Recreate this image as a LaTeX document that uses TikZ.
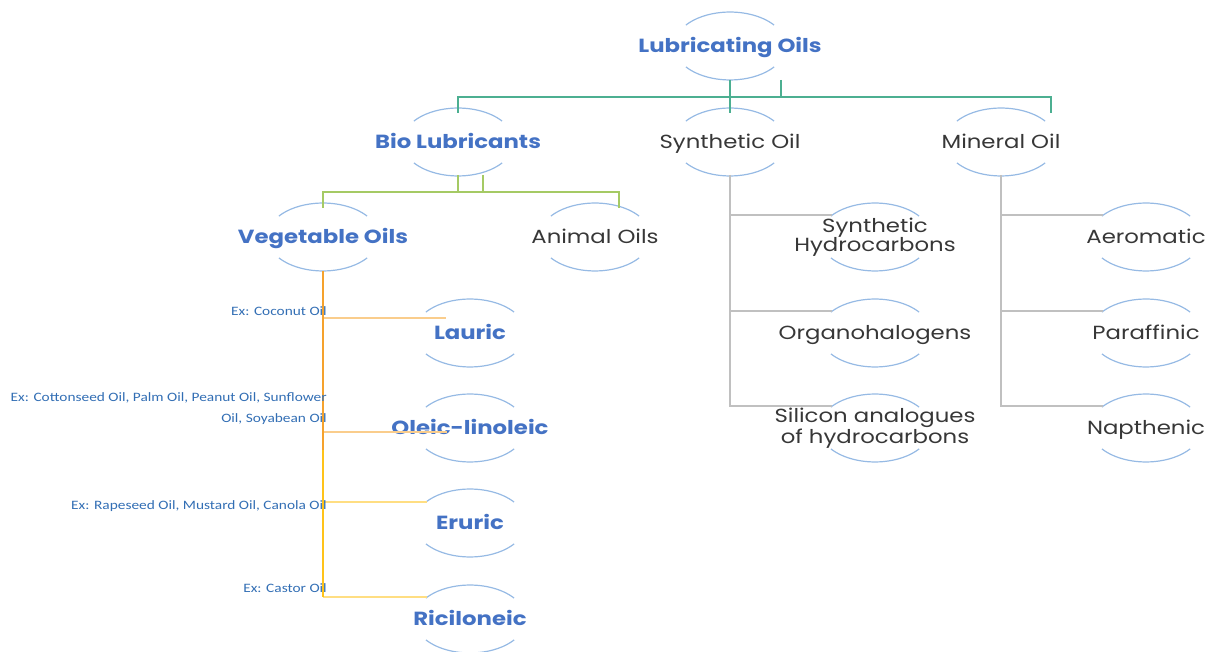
\documentclass[tikz,border=0pt]{standalone}
\usepackage{fontspec}
\setmainfont{Poppins}
\newfontfamily\exfont{Carlito}
\usetikzlibrary{calc}
\definecolor{lblue}{RGB}{68,114,196}
\definecolor{darkc}{RGB}{55,55,55}
\definecolor{arcc}{RGB}{150,186,228}
\definecolor{tealc}{RGB}{76,175,145}
\definecolor{greenc}{RGB}{165,202,100}
\definecolor{orc}{RGB}{245,162,45}
\definecolor{goldc}{RGB}{255,195,25}
\definecolor{orlc}{RGB}{250,205,140}
\definecolor{goldlc}{RGB}{255,222,130}
\definecolor{grayc}{RGB}{192,192,192}
\definecolor{exc}{RGB}{50,110,180}
\newcommand\ovarcs[1]{%
  \draw[arcline] ($(#1.center)+(44.1,20.9)$) arc[start angle=38,end angle=142,x radius=56,y radius=34];
  \draw[arcline] ($(#1.center)+(-44.1,-20.9)$) arc[start angle=218,end angle=322,x radius=56,y radius=34];}
\begin{document}
\begin{tikzpicture}[x=1pt,y=1pt,
  lbl/.style={inner sep=0pt, xscale=1.2, font=\fontsize{19}{19}\selectfont, text=darkc, align=center},
  blbl/.style={inner sep=0pt, xscale=1.2, font=\fontsize{19}{19}\selectfont\bfseries, text=lblue, align=center},
  one/.style={text height=13.3pt, text depth=0pt},
  exlbl/.style={inner sep=0pt, xscale=1.2, font=\exfont\fontsize{12.8}{21}\selectfont, text=exc, anchor=east, align=right},
  arcline/.style={draw=arcc, line width=1.2pt},
  tl/.style={draw=tealc, line width=1.6pt},
  gl/.style={draw=greenc, line width=1.6pt},
  orl/.style={draw=orc, line width=1.4pt},
  gdl/.style={draw=goldc, line width=1.4pt},
  orb/.style={draw=orlc, line width=1.4pt},
  gdb/.style={draw=goldlc, line width=1.4pt},
  gry/.style={draw=grayc, line width=1.4pt}]
\useasboundingbox (0,0) rectangle (1210,651);
% nodes
\node[blbl,one] (root) at (730,605) {Lubricating Oils};
\node[blbl,one] (bio) at (458,509) {Bio Lubricants};
\node[lbl,one] (syn) at (730,509) {Synthetic Oil};
\node[lbl,one] (min) at (1001,509) {Mineral Oil};
\node[blbl,one] (veg) at (323,414) {Vegetable Oils};
\node[lbl,one] (ani) at (595,414) {Animal Oils};
\node[blbl,one] (lau) at (470,318) {Lauric};
\node[blbl,one] (ole) at (470,223) {Oleic-linoleic};
\node[blbl,one] (eru) at (470,128) {Eruric};
\node[blbl,one] (ric) at (470,32) {Riciloneic};
\node[lbl] (shc) at (875,414) {Synthetic\\Hydrocarbons};
\node[lbl,one] (org) at (875,318) {Organohalogens};
\node[lbl] (sil) at (875,223) {Silicon analogues\\of hydrocarbons};
\node[lbl,one] (aer) at (1146,414) {Aeromatic};
\node[lbl,one] (par) at (1146,318) {Paraffinic};
\node[lbl,one] (nap) at (1146,223) {Napthenic};
% arcs
\foreach \n in {root,bio,syn,min,veg,ani,lau,ole,eru,ric,shc,org,sil,aer,par,nap}{\ovarcs{\n}}
% root connectors
\draw[tl] ($(root)+(0,-34)$) -- ($(syn)+(0,29)$);
\draw[tl] ($(root)+(51,-34)$) -- ($(root)+(51,-51)$);
\draw[tl] ($(bio)+(0,29)$) |- ($(min)+(50,45)$) -- ($(min)+(50,29)$);
% bio connectors
\draw[gl] ($(bio)+(0,-33)$) -- ($(bio)+(0,-50)$);
\draw[gl] ($(bio)+(25,-33)$) -- ($(bio)+(25,-50)$);
\draw[gl] ($(veg)+(0,29)$) |- ($(ani)+(24,45)$) -- ($(ani)+(24,29)$);
% vegetable connectors
\coordinate (vmid) at ($(veg)+(0,-213)$);
\coordinate (vend) at ($(veg)+(0,-360)$);
\draw[orb] ($(veg|-lau)+(0,15)$) -- ($(lau)+(-24,15)$);
\draw[orb] ($(veg|-ole)+(0,-4)$) -- ($(ole)+(-23,-4)$);
\draw[gdb] ($(veg|-eru)+(0,21)$) -- ($(eru)+(-43,21)$);
\draw[gdb] (vend) -- ($(ric)+(-43,22)$);
\draw[orl] ($(veg)+(0,-34)$) -- (vmid);
\draw[gdl] (vmid) -- (vend);
% example labels
\node[exlbl] (ex1) at ($(veg|-lau)+(4,22)$) {Ex: Coconut Oil};
\node[exlbl] (ex2) at ($(veg|-ole)+(4,19.5)$) {Ex: Cottonseed Oil, Palm Oil, Peanut Oil, Sunflower\\Oil, Soyabean Oil};
\node[exlbl] (ex3) at ($(veg|-eru)+(4,17)$) {Ex: Rapeseed Oil, Mustard Oil, Canola Oil};
\node[exlbl] (ex4) at ($(veg|-ric)+(4,31)$) {Ex: Castor Oil};
% synthetic connectors
\draw[gry] ($(syn)+(0,-33)$) |- ($(sil)+(-43,22)$);
\draw[gry] ($(syn|-shc)+(0,22)$) -- ($(shc)+(-43,22)$);
\draw[gry] ($(syn|-org)+(0,22)$) -- ($(org)+(-43,22)$);
% mineral connectors
\draw[gry] ($(min)+(0,-33)$) |- ($(nap)+(-43,22)$);
\draw[gry] ($(min|-aer)+(0,22)$) -- ($(aer)+(-43,22)$);
\draw[gry] ($(min|-par)+(0,22)$) -- ($(par)+(-43,22)$);
\end{tikzpicture}
\end{document}
